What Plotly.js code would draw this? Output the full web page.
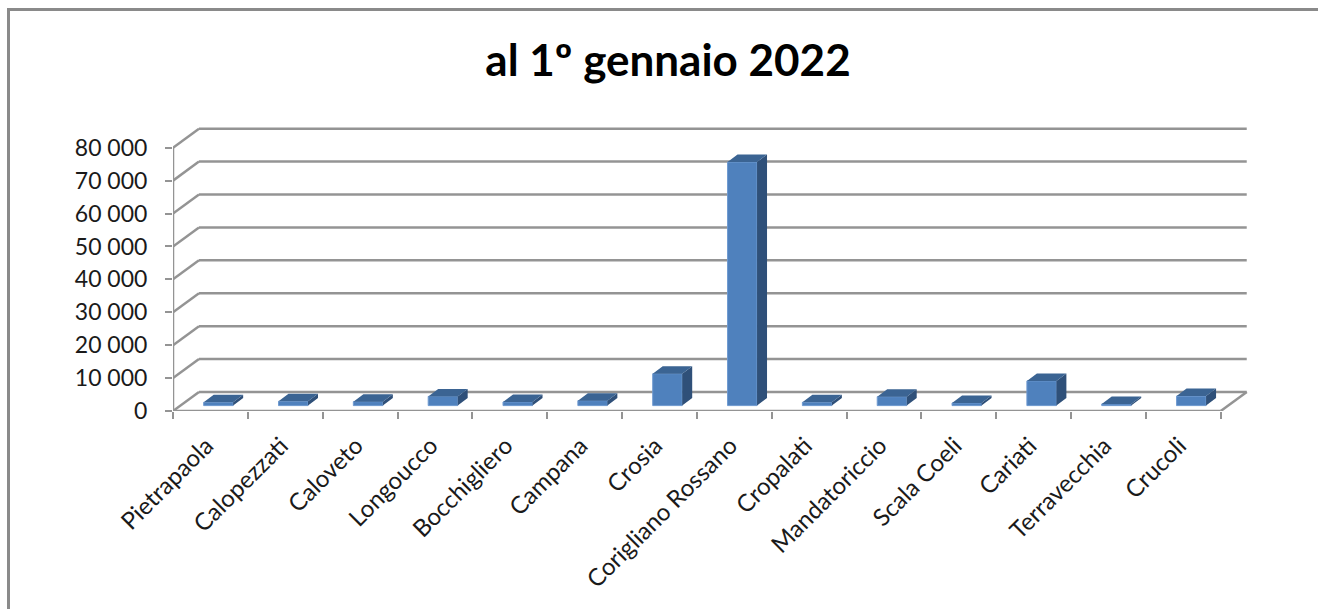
<!DOCTYPE html>
<html>
<head>
<meta charset="utf-8">
<script src="https://cdn.plot.ly/plotly-3.0.1.min.js"></script>
<style>
html,body{margin:0;padding:0;background:#fff;overflow:hidden}
#wrap{position:relative;width:1318px;height:609px;overflow:hidden}
#chart{position:absolute;left:0;top:0;width:1318px;height:609px}
#frame{position:absolute;left:7px;top:8px;width:1400px;height:700px;border:3px solid #8a8a8a;pointer-events:none}
</style>
</head>
<body>
<div id="wrap"><div id="chart"></div><div id="frame"></div></div>
<script>
const categories = ["Pietrapaola","Calopezzati","Caloveto","Longoucco","Bocchigliero","Campana","Crosia","Corigliano Rossano","Cropalati","Mandatoriccio","Scala Coeli","Cariati","Terravecchia","Crucoli"];
const population = [1000,1300,1200,2800,1100,1500,9700,74000,1000,2700,800,7500,500,2900];
const yTicks = [0,10000,20000,30000,40000,50000,60000,70000,80000];
const titleText = "al 1º gennaio 2022";

// Chart geometry (pixels)
const plotLeft = 172.7, baseY = 410.7, plotRight = 1249, plotTop = 124;
const slotPx = 74.86, tenKPx = 32.875;
const wallDx = 26, wallDy = 19;         // depth of the floor, to the back wall
const barDx = 10, barDy = 7.5;          // depth of one bar
const barShiftPx = 8, floorFrac = 0.284, barPx = 29.5;

const xu = p => p / slotPx;
const yu = p => p / tenKPx * 10000;
const xMin = -0.5, xMax = xMin + xu(plotRight - plotLeft), xEnd = xMin + categories.length;
const yMax = yu(baseY - plotTop);

const idx = categories.map((_, i) => i);
const boundaries = categories.map((_, i) => i - 0.5).concat([categories.length - 0.5]);
const barBase = yu(wallDy * floorFrac);
const half = xu(barPx) / 2, shift = xu(barShiftPx);

// depth faces computed from the values
const sideX = [], sideY = [], topX = [], topY = [];
population.forEach((v, i) => {
  const x0 = i + shift - half, x1 = i + shift + half;
  const b = barBase, t = barBase + v, dx = xu(barDx), dy = yu(barDy);
  sideX.push(x1, x1 + dx, x1 + dx, x1, x1, null);
  sideY.push(b, b + dy, t + dy, t, b, null);
  topX.push(x0, x1, x1 + dx, x0 + dx, x0, null);
  topY.push(t, t, t + dy, t + dy, t, null);
});

const gridColor = "#949494";
const ln = {color: gridColor, width: 2.5};
const seg = (x0, y0, x1, y1) => ({type: "line", layer: "below", xref: "x", yref: "y", x0, y0, x1, y1, line: ln});
const shapes = [];
yTicks.forEach(v => {
  shapes.push(seg(xMin, v, xMin + xu(wallDx), v + yu(wallDy)));
  shapes.push(seg(xMin + xu(wallDx), v + yu(wallDy), xEnd + xu(wallDx), v + yu(wallDy)));
});
shapes.push(seg(xMin, 0, xMin, yTicks[yTicks.length - 1]));
shapes.push(seg(xMin, 0, xEnd, 0));
shapes.push(seg(xEnd, 0, xEnd + xu(wallDx), yu(wallDy)));

const traces = [
  {type: "bar", x: idx, y: population, base: barBase, width: xu(barPx), offset: shift - half,
   marker: {color: "#4f81bd", line: {color: "#6f9ad0", width: 1}}, hoverinfo: "skip"},
  {type: "scatter", mode: "lines", x: sideX, y: sideY, fill: "toself", fillcolor: "#2f5079",
   line: {width: 0, color: "#2f5079"}, hoverinfo: "skip"},
  {type: "scatter", mode: "lines", x: topX, y: topY, fill: "toself", fillcolor: "#3b6493",
   line: {width: 0, color: "#3b6493"}, hoverinfo: "skip"}
];

const font = "Lato, Carlito, sans-serif";
const layout = {
  width: 1318, height: 609, showlegend: false,
  paper_bgcolor: "rgba(0,0,0,0)", plot_bgcolor: "rgba(0,0,0,0)",
  separators: ", ",
  margin: {l: plotLeft, r: 1318 - plotRight, t: plotTop, b: 609 - baseY, pad: 0},
  title: {text: "<b>" + titleText + "</b>", x: 668 / 1318, xanchor: "center", y: 1 - 61 / 609, yanchor: "middle",
          font: {family: font, size: 44, color: "#000"}},
  xaxis: {type: "linear", range: [xMin, xMax], showgrid: false, zeroline: false, showline: false,
          tickmode: "array", tickvals: idx, ticktext: categories, ticks: "", tickangle: -45,
          tickfont: {family: font, size: 24, color: "#1a1a1a"}, ticklabelstandoff: 15, ticklabelshift: -4,
          minor: {tickmode: "array", tickvals: boundaries, ticks: "outside", ticklen: 7, tickwidth: 2, tickcolor: gridColor, showgrid: false}},
  yaxis: {range: [0, yMax], showgrid: false, zeroline: false, showline: false,
          tickmode: "array", tickvals: yTicks, tickformat: ",d", ticks: "outside", ticklen: 7, tickwidth: 2, tickcolor: gridColor,
          ticklabelstandoff: 13,
          tickfont: {family: font, size: 23, color: "#1a1a1a"}},
  shapes: shapes
};
Plotly.newPlot("chart", traces, layout, {displayModeBar: false, staticPlot: true});
</script>
</body>
</html>
